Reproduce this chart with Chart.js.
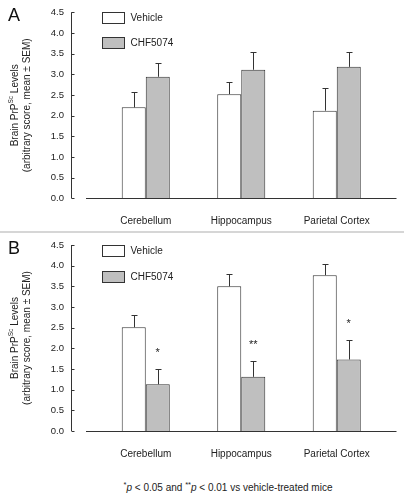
<!DOCTYPE html>
<html>
<head>
<meta charset="utf-8">
<script src="https://cdn.jsdelivr.net/npm/chart.js@4.4.1/dist/chart.umd.min.js"></script>
<style>
  body { margin: 0; background: #fff; font-family: "Liberation Sans", Arial, sans-serif; color: #222; }
  #page { position: relative; width: 404px; height: 500px; overflow: hidden; }
  .panel { position: absolute; left: 0; }
  .letter { position: absolute; left: 8px; font-size: 18px; line-height: 18px; color: #111; }
  .sep { position: absolute; left: 0; top: 231px; width: 404px; height: 2px; background: #d6d6d6; }
  .note { position: absolute; left: 0; top: 480px; width: 456px; text-align: center; font-size: 10px; color: #222; }
  .note sup { font-size: 7.5px; }
</style>
</head>
<body>
<div id="page">
  <canvas id="chartA" class="panel" style="top:0" width="404" height="230"></canvas>
  <div class="sep"></div>
  <canvas id="chartB" class="panel" style="top:234px" width="404" height="236"></canvas>
  <div class="letter" style="top:6px">A</div>
  <div class="letter" style="top:239px">B</div>
  <div class="note"><sup>*</sup><i>p</i> &lt; 0.05 and <sup>**</sup><i>p</i> &lt; 0.01 vs vehicle-treated mice</div>
</div>
<script>
// Brain PrPSc levels, vehicle vs CHF5074, two experiments (A, B)
var categories = ["Cerebellum", "Hippocampus", "Parietal Cortex"];
var seriesNames = ["Vehicle", "CHF5074"];
var yMin = 0, yMax = 4.5, yStep = 0.5;

var vehicleA = [2.20, 2.52, 2.12];
var vehicleSemA = [0.38, 0.30, 0.56];
var chfA = [2.94, 3.11, 3.18];
var chfSemA = [0.33, 0.44, 0.37];

var vehicleB = [2.51, 3.50, 3.77];
var vehicleSemB = [0.29, 0.31, 0.26];
var chfB = [1.13, 1.31, 1.73];
var chfSemB = [0.36, 0.38, 0.47];
var starsB = ["*", "**", "*"];

var INK = "#333";
var FONT = "'Liberation Sans', Arial, sans-serif";

// axes, error bars, stars, legend and y title drawn on top of the bars
var decorPlugin = {
  id: "decor",
  afterDatasetsDraw: function (chart, args, opts) {
    var ctx = chart.ctx;
    var area = chart.chartArea;
    var y = chart.scales.y;
    ctx.save();
    ctx.strokeStyle = INK;
    ctx.lineWidth = 1;

    // error bars (upper only)
    chart.data.datasets.forEach(function (ds, di) {
      var meta = chart.getDatasetMeta(di);
      meta.data.forEach(function (bar, i) {
        var x = Math.round(bar.x) + 0.5;
        var top = Math.round(y.getPixelForValue(ds.data[i] + ds.sem[i])) + 0.5;
        ctx.beginPath();
        ctx.moveTo(x, bar.y);
        ctx.lineTo(x, top);
        ctx.moveTo(x - 3, top);
        ctx.lineTo(x + 3, top);
        ctx.stroke();
        if (ds.stars && ds.stars[i]) {
          ctx.fillStyle = "#222";
          ctx.font = "11px " + FONT;
          ctx.textAlign = "center";
          ctx.textBaseline = "middle";
          ctx.fillText(ds.stars[i], bar.x, top - 17);
        }
      });
    });

    // y axis line, offset to the left, with short ticks
    var ax = Math.round(area.left - 27) + 0.5;
    ctx.beginPath();
    ctx.moveTo(ax, area.top);
    ctx.lineTo(ax, area.bottom);
    y.ticks.forEach(function (t) {
      var py = Math.round(y.getPixelForValue(t.value)) + 0.5;
      ctx.moveTo(ax, py);
      ctx.lineTo(ax + 3, py);
    });
    ctx.stroke();

    // x baseline
    var by = Math.round(area.bottom) + 0.5;
    ctx.beginPath();
    ctx.moveTo(area.left - 12, by);
    ctx.lineTo(area.right + 12, by);
    ctx.stroke();

    // legend
    ctx.font = "10px " + FONT;
    ctx.textAlign = "left";
    ctx.textBaseline = "middle";
    chart.data.datasets.forEach(function (ds, di) {
      var lx = Math.round(area.left + 4) + 0.5;
      var ly = Math.round(area.top + di * opts.legendGap) + 0.5;
      ctx.fillStyle = ds.backgroundColor;
      ctx.fillRect(lx, ly, 22, 11);
      ctx.strokeRect(lx, ly, 22, 11);
      ctx.fillStyle = "#222";
      ctx.fillText(ds.label, lx + 28, ly + 6);
    });

    // y title, two rotated lines with superscript Sc
    var cy = (area.top + area.bottom) / 2;
    ctx.translate(15, cy);
    ctx.rotate(-Math.PI / 2);
    ctx.fillStyle = "#222";
    ctx.textBaseline = "middle";
    var big = "10px " + FONT, small = "6.5px " + FONT;
    ctx.font = big;
    var p1 = "Brain PrP", p3 = " Levels";
    var w1 = ctx.measureText(p1).width, w3 = ctx.measureText(p3).width;
    ctx.font = small;
    var w2 = ctx.measureText("Sc").width;
    var sx = -(w1 + w2 + w3) / 2;
    ctx.font = big;
    ctx.textAlign = "left";
    ctx.fillText(p1, sx, 0);
    ctx.font = small;
    ctx.fillText("Sc", sx + w1, -4);
    ctx.font = big;
    ctx.fillText(p3, sx + w1 + w2, 0);
    ctx.textAlign = "center";
    ctx.fillText("(arbitrary score, mean \u00b1 SEM)", 0, 12);
    ctx.restore();
  }
};

function makeChart(id, vehicle, vehicleSem, chf, chfSem, stars, padTop, xHeight, legendGap) {
  var canvas = document.getElementById(id);
  return new Chart(canvas.getContext("2d"), {
    type: "bar",
    data: {
      labels: categories,
      datasets: [
        { label: seriesNames[0], data: vehicle, sem: vehicleSem, backgroundColor: "#ffffff",
          borderColor: INK, borderWidth: 1, borderSkipped: "start" },
        { label: seriesNames[1], data: chf, sem: chfSem, stars: stars, backgroundColor: "#bfbfbf",
          borderColor: INK, borderWidth: 1, borderSkipped: "start" }
      ]
    },
    options: {
      responsive: false,
      animation: false,
      layout: { padding: { top: padTop, right: 19.5, left: 0, bottom: 0 } },
      categoryPercentage: 0.503,
      barPercentage: 1,
      plugins: {
        legend: { display: false },
        tooltip: { enabled: false },
        decor: { legendGap: legendGap }
      },
      scales: {
        x: {
          grid: { display: false, drawTicks: true, tickLength: 17 },
          border: { display: false },
          ticks: { color: "#222", font: { family: FONT, size: 10 }, padding: 0, maxRotation: 0 },
          afterFit: function (s) { s.height = xHeight; }
        },
        y: {
          min: yMin, max: yMax,
          grid: { display: false, drawTicks: true, tickLength: 30 },
          border: { display: false },
          ticks: { stepSize: yStep, color: "#222", font: { family: FONT, size: 9.5 }, padding: 4,
                   callback: function (v) { return v.toFixed(1); } },
          afterFit: function (s) { s.width = 98; }
        }
      }
    },
    plugins: [decorPlugin]
  });
}

makeChart("chartA", vehicleA, vehicleSemA, chfA, chfSemA, null, 12.3, 31.7, 25);
makeChart("chartB", vehicleB, vehicleSemB, chfB, chfSemB, starsB, 11, 39, 26);
</script>
</body>
</html>
